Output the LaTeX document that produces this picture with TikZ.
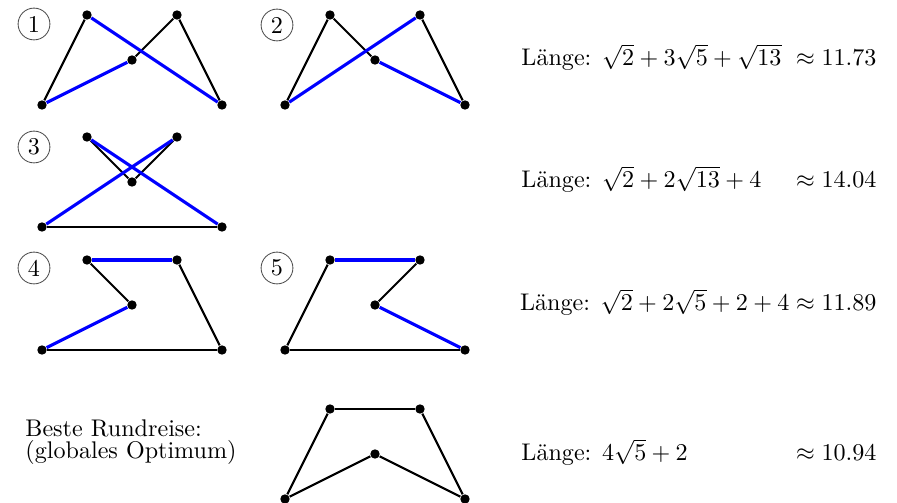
\documentclass[tikz,border=0pt]{standalone}
\usepackage{amsmath}
\tikzset{
  dot/.style={circle,fill=black,inner sep=0pt,minimum size=3.9pt},
  blk/.style={draw=black,line width=0.85pt},
  blu/.style={draw=blue,line width=1.3pt},
  num/.style={circle,draw=black!70,line width=0.35pt,inner sep=0pt,minimum size=13.2pt},
  lbl/.style={inner sep=0pt,anchor=base west},
  val/.style={inner sep=0pt,anchor=base east},
  unit/.style={x=18.675pt,y=18.675pt},
}
\newcommand{\fivepts}[1]{%
  \node[dot] (#1A) at (0,0) {};
  \node[dot] (#1B) at (1,2) {};
  \node[dot] (#1C) at (2,1) {};
  \node[dot] (#1D) at (3,2) {};
  \node[dot] (#1E) at (4,0) {};}
\begin{document}
\begin{tikzpicture}[x=0.415pt,y=-0.415pt]
\useasboundingbox (0,0) rectangle (897,503);

% diagram 1
\begin{scope}[shift={(42,105)},unit]
  \fivepts{a}
\end{scope}
\draw[blk] (aA) -- (aB);
\draw[blk] (aE) -- (aD);
\draw[blk] (aD) -- (aC);
\draw[blu] (aB) -- (aE);
\draw[blu] (aC) -- (aA);

% diagram 2
\begin{scope}[shift={(285,105)},unit]
  \fivepts{b}
\end{scope}
\draw[blk] (bA) -- (bB);
\draw[blk] (bB) -- (bC);
\draw[blk] (bE) -- (bD);
\draw[blu] (bC) -- (bE);
\draw[blu] (bD) -- (bA);

% diagram 3
\begin{scope}[shift={(42,227)},unit]
  \fivepts{c}
\end{scope}
\draw[blk] (cA) -- (cE);
\draw[blk] (cB) -- (cC);
\draw[blk] (cC) -- (cD);
\draw[blu] (cE) -- (cB);
\draw[blu] (cD) -- (cA);

% diagram 4
\begin{scope}[shift={(42,350)},unit]
  \fivepts{d}
\end{scope}
\draw[blk] (dA) -- (dE);
\draw[blk] (dE) -- (dD);
\draw[blk] (dB) -- (dC);
\draw[blu] (dD) -- (dB);
\draw[blu] (dC) -- (dA);

% diagram 5
\begin{scope}[shift={(285,350)},unit]
  \fivepts{e}
\end{scope}
\draw[blk] (eA) -- (eB);
\draw[blk] (eD) -- (eC);
\draw[blk] (eE) -- (eA);
\draw[blu] (eB) -- (eD);
\draw[blu] (eC) -- (eE);

% best tour
\begin{scope}[shift={(285,499)},unit]
  \fivepts{f}
\end{scope}
\draw[blk] (fA) -- (fB);
\draw[blk] (fB) -- (fD);
\draw[blk] (fD) -- (fE);
\draw[blk] (fE) -- (fC);
\draw[blk] (fC) -- (fA);

% circled numbers
\node[num] (n1) at (34,24) {1};
\node[num] (n2) at (277,25) {2};
\node[num] (n3) at (34,147) {3};
\node[num] (n4) at (34,268) {4};
\node[num] (n5) at (277,268) {5};

% lengths
\node[lbl] (l1) at (521,66) {Länge: $\sqrt{2}+3\sqrt{5}+\sqrt{13}$};
\node[val] (v1) at (877,66) {$\approx 11.73$};
\node[lbl] (l2) at (521,188) {Länge: $\sqrt{2}+2\sqrt{13}+4$};
\node[val] (v2) at (877,188) {$\approx 14.04$};
\node[val] (l3) at (877,311) {Länge: $\sqrt{2}+2\sqrt{5}+2+4\approx 11.89$};
\node[lbl] (l4) at (521,461) {Länge: $4\sqrt{5}+2$};
\node[val] (v4) at (877,461) {$\approx 10.94$};

% best label
\node[lbl] (b1) at (25,437) {Beste Rundreise:};
\node[lbl] (b2) at (25,459) {(globales Optimum)};
\end{tikzpicture}
\end{document}
